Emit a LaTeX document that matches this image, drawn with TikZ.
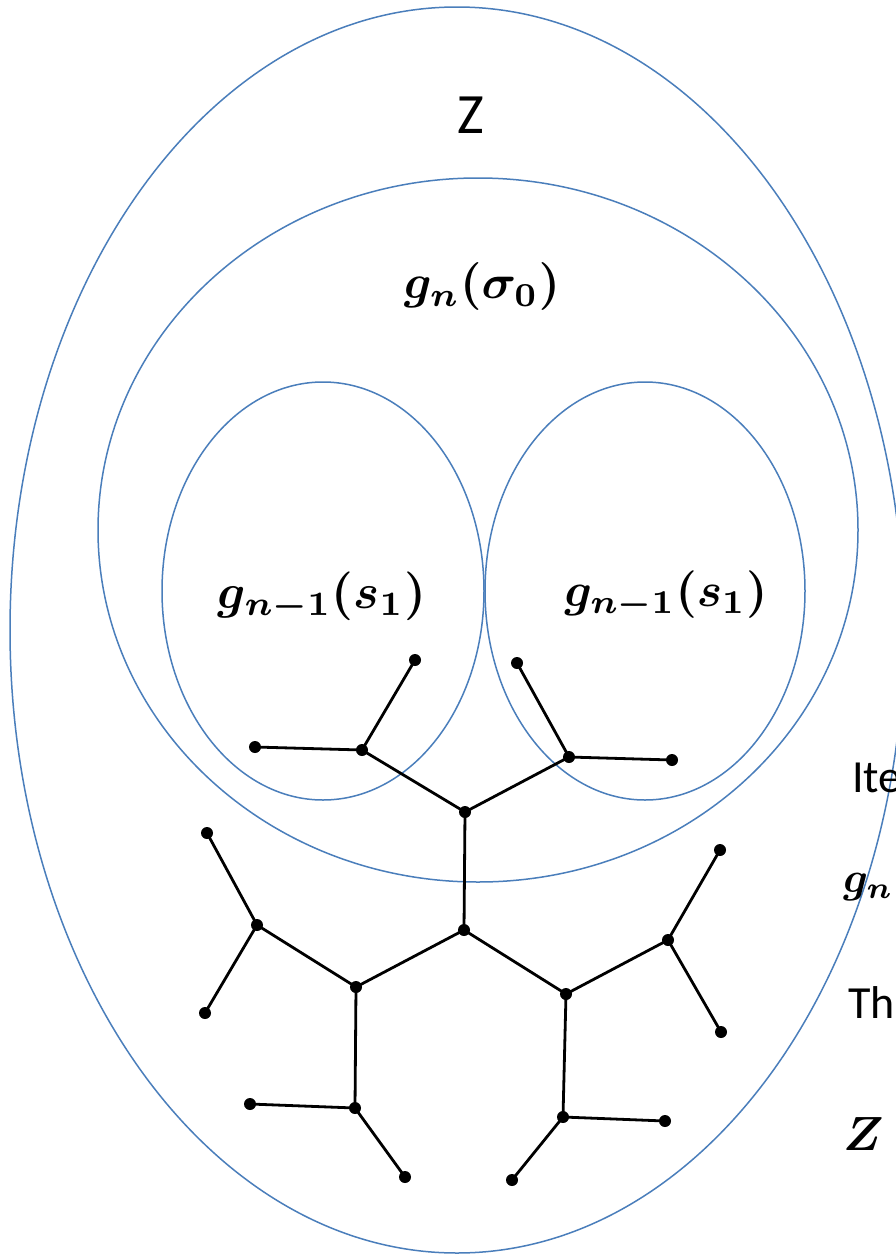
\documentclass[tikz,border=0pt]{standalone}
\usepackage{fontspec}
\usepackage{amsmath,bm}
\usepackage{graphicx}
\newfontfamily\calfont{Carlito}
\definecolor{ellcol}{HTML}{4A7EBB}
\begin{document}
\begin{tikzpicture}[x=1pt,y=-1pt,
  ring/.style={draw=ellcol,line width=1.5pt},
  dot/.style={circle,fill=black,inner sep=0pt,minimum size=12pt},
  edge/.style={line width=2.8pt,black},
  lbl/.style={inner sep=0pt}]
\useasboundingbox (0,0) rectangle (896,1258);
\clip (0,0) rectangle (896,1258);
\fill[white] (0,0) rectangle (896,1258);
% ellipses
\draw[ring] (457,630) ellipse [x radius=447, y radius=623];
\draw[ring] (478,530) ellipse [x radius=380, y radius=352];
\draw[ring] (323,591) ellipse [x radius=161, y radius=209];
\draw[ring] (645,591) ellipse [x radius=160, y radius=209];
% labels
\node[lbl] (z) at (471,115) {\fontsize{57}{60}\selectfont\calfont Z};
\node[lbl] (gs) at (482,287) {\resizebox{156pt}{!}{$\boldsymbol{g_n(\sigma_0)}$}};
\node[lbl] (gl) at (322,597) {\resizebox{208pt}{!}{$\boldsymbol{g_{n-1}(s_1)}$}};
\node[lbl] (gr) at (666,595) {\resizebox{203pt}{!}{$\boldsymbol{g_{n-1}(s_1)}$}};
% right clipped texts
\node[lbl,anchor=base west] (t1) at (852,792) {\fontsize{46}{50}\selectfont\calfont Ite};
\node[lbl,anchor=base west] (t2) at (843,892) {\scalebox{4.3}{$\boldsymbol{g_n(}$}};
\node[lbl,anchor=base west] (t3) at (848,1018) {\fontsize{46}{50}\selectfont\calfont Th};
\node[lbl,anchor=base west] (t4) at (843,1150) {\scalebox{4.8}{$\boldsymbol{Z}$}};
% tree nodes
\node[dot] (A) at (415,660) {};
\node[dot] (B) at (255,747) {};
\node[dot] (C) at (362,750) {};
\node[dot] (D) at (517,663) {};
\node[dot] (E) at (569,757) {};
\node[dot] (F) at (672,760) {};
\node[dot] (G) at (465,812) {};
\node[dot] (H) at (464,930) {};
\node[dot] (K) at (257,925) {};
\node[dot] (L) at (207,833) {};
\node[dot] (M) at (205,1013) {};
\node[dot] (I) at (356,987) {};
\node[dot] (J) at (566,994) {};
\node[dot] (N) at (668,940) {};
\node[dot] (O) at (720,850) {};
\node[dot] (P) at (721,1032) {};
\node[dot] (Q) at (355,1108) {};
\node[dot] (R) at (250,1104) {};
\node[dot] (S) at (405,1177) {};
\node[dot] (T) at (563,1117) {};
\node[dot] (U) at (665,1121) {};
\node[dot] (V) at (512,1180) {};
% tree edges
\draw[edge] (A.center) -- (C.center) -- (B.center);
\draw[edge] (C.center) -- (G.center) -- (E.center);
\draw[edge] (D.center) -- (E.center) -- (F.center);
\draw[edge] (G.center) -- (H.center);
\draw[edge] (H.center) -- (I.center) -- (K.center);
\draw[edge] (L.center) -- (K.center) -- (M.center);
\draw[edge] (H.center) -- (J.center) -- (N.center);
\draw[edge] (O.center) -- (N.center) -- (P.center);
\draw[edge] (I.center) -- (Q.center) -- (R.center);
\draw[edge] (Q.center) -- (S.center);
\draw[edge] (J.center) -- (T.center) -- (U.center);
\draw[edge] (T.center) -- (V.center);
\end{tikzpicture}
\end{document}
